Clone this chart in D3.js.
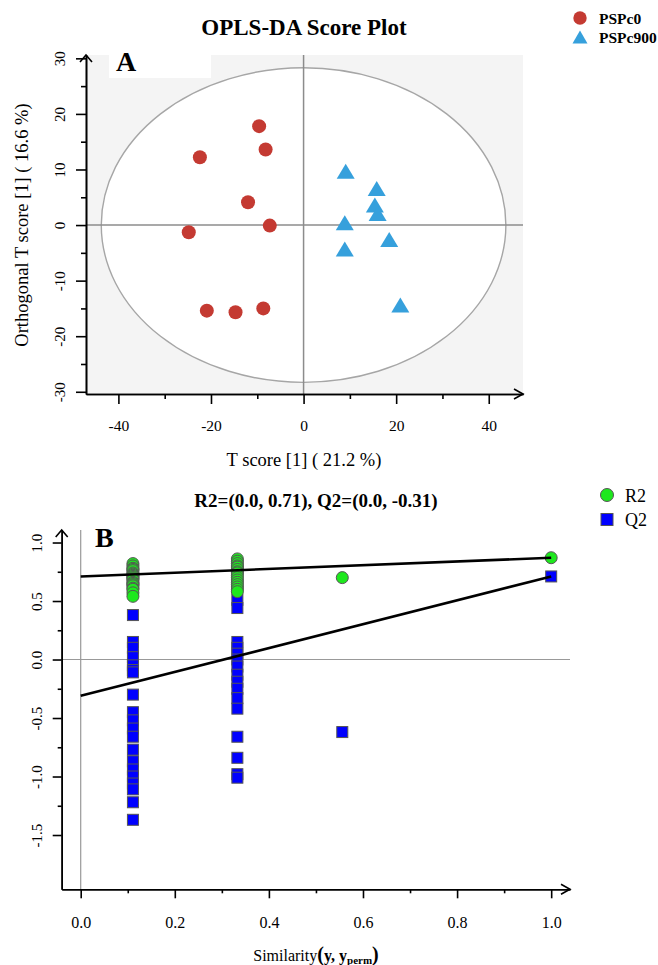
<!DOCTYPE html>
<html lang="en">
<head>
<meta charset="UTF-8">
<title>OPLS-DA</title>
<script src="https://cdn.jsdelivr.net/npm/d3@7"></script>
<style>
  body, html {margin: 0; padding: 0; background: #fff;}
  svg {display: block; font-family: "Liberation Serif", "Times New Roman", serif;}
  svg text {font-family: "Liberation Serif", "Times New Roman", serif;}
  .axis path, .axis line {stroke: #000; stroke-width: 1.6;}
  .axis text {fill: #000;}
</style>
</head>
<body>
<div id="chart"></div>
<script>
// ---- panel A: score plot ----
const pspc0X = [-9.6, -8.2, -22.4, -12.0, -7.3, -24.8, -20.9, -14.7, -8.7];
const pspc0Y = [17.8, 13.6, 12.2, 4.1, -0.1, -1.3, -15.4, -15.7, -15.0];
const pspc900X = [9.1, 15.8, 15.4, 16.0, 8.9, 18.5, 8.9, 20.9];
const pspc900Y = [9.7, 6.6, 3.6, 2.1, 0.4, -2.6, -4.3, -14.4];
const ellipseRadius = [43.7, 28.3];   // T2 ellipse, data units
const xTicksA = [-40, -20, 0, 20, 40];
const xMinorA = [-30, -10, 10, 30];
const yTicksA = [-30, -20, -10, 0, 10, 20, 30];
const yMinorA = [-25, -15, -5, 5, 15, 25];

// ---- panel B: permutation test ----
const simValues = [0.111, 0.333, 0.556, 1.0];
const r2Col1 = [0.82, 0.80, 0.78, 0.77, 0.76, 0.74, 0.73, 0.72, 0.71, 0.70, 0.69, 0.68, 0.66, 0.65, 0.64, 0.63, 0.61, 0.60, 0.57, 0.54];
const q2Col1 = [0.38, 0.15, 0.10, 0.02, -0.05, -0.09, -0.11, -0.30, -0.45, -0.52, -0.59, -0.66, -0.77, -0.87, -0.94, -1.00, -1.06, -1.11, -1.22, -1.37];
const r2Col2 = [0.86, 0.84, 0.82, 0.80, 0.79, 0.77, 0.75, 0.74, 0.72, 0.70, 0.68, 0.66, 0.64, 0.62, 0.60, 0.58];
const q2Col2 = [0.51, 0.44, 0.15, 0.10, 0.05, 0.00, -0.06, -0.13, -0.19, -0.25, -0.33, -0.42, -0.66, -0.84, -0.98, -1.01];
const r2Col3 = [0.70];
const q2Col3 = [-0.62];
const r2Orig = [0.87];
const q2Orig = [0.71];
const r2Line = [0.71, 0.87];   // intercept, value at 1.0
const q2Line = [-0.31, 0.71];
const xTicksB = [0, 0.2, 0.4, 0.6, 0.8, 1.0];
const xMinorB = [0.1, 0.3, 0.5, 0.7, 0.9];
const yTicksB = [-1.5, -1.0, -0.5, 0, 0.5, 1.0];
const yMinorB = [-1.25, -0.75, -0.25, 0.25, 0.75];

const red = "#c43a32", blue = "#36a0dc", green = "#1ee81e", qblue = "#0000ff";
const serif = "'Liberation Serif', 'Times New Roman', serif";

var width = 658, height = 965;
var svg = d3.select("#chart").append("svg")
  .attr("width", width).attr("height", height);

// =========== panel A ===========
var xA = d3.scaleLinear().domain([-47, 47.4]).range([86, 523]),
    yA = d3.scaleLinear().domain([-30.4, 30.6]).range([394, 55]);

var gA = svg.append("g");

gA.append("rect")
  .attr("x", xA.range()[0]).attr("y", yA.range()[1])
  .attr("width", xA.range()[1] - xA.range()[0])
  .attr("height", yA.range()[0] - yA.range()[1])
  .attr("fill", "#f4f4f4");

gA.append("rect")
  .attr("x", 109).attr("y", yA.range()[1])
  .attr("width", 102).attr("height", 23)
  .attr("fill", "#fff");

gA.append("ellipse")
  .attr("cx", xA(0)).attr("cy", yA(0))
  .attr("rx", xA(ellipseRadius[0]) - xA(0))
  .attr("ry", yA(0) - yA(ellipseRadius[1]))
  .attr("fill", "#fff").attr("stroke", "#a6a6a6").attr("stroke-width", 1.4);

// zero lines
gA.append("line")
  .attr("x1", xA(0)).attr("x2", xA(0))
  .attr("y1", yA.range()[0]).attr("y2", yA.range()[1])
  .attr("stroke", "#8c8c8c").attr("stroke-width", 1.5);
gA.append("line")
  .attr("x1", xA.range()[0]).attr("x2", xA.range()[1])
  .attr("y1", yA(0)).attr("y2", yA(0))
  .attr("stroke", "#8c8c8c").attr("stroke-width", 1.5);

// axes, R style: rotated y labels, minor ticks, arrow heads
function drawAxes(g, x, y, o) {
  var x0 = x.range()[0], x1 = x.range()[1], y0 = y.range()[0], y1 = y.range()[1];

  g.append("g").attr("class", "axis")
    .attr("transform", `translate(0, ${y0})`)
    .call(d3.axisBottom(x).tickValues(o.xMinor).tickSize(o.minor).tickSizeOuter(0).tickFormat(""));
  var ax = g.append("g").attr("class", "axis")
    .attr("transform", `translate(0, ${y0})`)
    .call(d3.axisBottom(x).tickValues(o.xTicks).tickSize(o.major).tickSizeOuter(0).tickFormat(o.xFmt));
  ax.selectAll("text").attr("y", o.xLabelOff).attr("dy", 0)
    .style("font-family", serif).style("font-size", o.xFs + "px");

  g.append("g").attr("class", "axis")
    .attr("transform", `translate(${x0}, 0)`)
    .call(d3.axisLeft(y).tickValues(o.yMinor).tickSize(o.minor).tickSizeOuter(0).tickFormat(""));
  var ay = g.append("g").attr("class", "axis")
    .attr("transform", `translate(${x0}, 0)`)
    .call(d3.axisLeft(y).tickValues(o.yTicks).tickSize(o.major).tickSizeOuter(0).tickFormat(o.yFmt));
  ay.selectAll("text").attr("x", 0).attr("dy", 0).attr("y", -o.yLabelOff)
    .attr("transform", "rotate(-90)").attr("text-anchor", "middle")
    .style("font-family", serif).style("font-size", o.yFs + "px");

  g.selectAll(".axis .domain").attr("stroke-width", 1.8);

  // arrow heads
  g.append("path")
    .attr("d", `M${x0 - 6},${y1 + 7}L${x0},${y1}L${x0 + 6},${y1 + 7}`)
    .attr("fill", "none").attr("stroke", "#000").attr("stroke-width", 1.6);
  g.append("path")
    .attr("d", `M${x1 - 9},${y0 - 5}L${x1},${y0}L${x1 - 9},${y0 + 5}`)
    .attr("fill", "none").attr("stroke", "#000").attr("stroke-width", 1.6);
}

drawAxes(gA, xA, yA, {
  xTicks: xTicksA, xMinor: xMinorA, yTicks: yTicksA, yMinor: yMinorA,
  major: 10, minor: 5, xLabelOff: 37, yLabelOff: 21, xFs: 15.5, yFs: 15,
  xFmt: d => String(d), yFmt: d => String(d)
});

// points
gA.selectAll("circle.p0")
  .data(pspc0X.map((v, i) => [v, pspc0Y[i]]))
  .enter().append("circle")
  .attr("class", "p0")
  .attr("cx", d => xA(d[0])).attr("cy", d => yA(d[1]))
  .attr("r", 7).attr("fill", red);

function tri(w, h) { return `M0,${-h / 2}L${w / 2},${h / 2}L${-w / 2},${h / 2}Z`; }

gA.selectAll("path.p900")
  .data(pspc900X.map((v, i) => [v, pspc900Y[i]]))
  .enter().append("path")
  .attr("class", "p900")
  .attr("d", tri(18, 15))
  .attr("transform", d => `translate(${xA(d[0])}, ${yA(d[1])})`)
  .attr("fill", blue);

// labels
svg.append("text").attr("x", 304).attr("y", 35).attr("text-anchor", "middle")
  .attr("font-size", 23).attr("font-weight", "bold").text("OPLS-DA Score Plot");
svg.append("text").attr("x", 116).attr("y", 71)
  .attr("font-size", 28).attr("font-weight", "bold").text("A");
svg.append("text").attr("x", 304).attr("y", 466).attr("text-anchor", "middle")
  .attr("font-size", 18.5).text("T score [1] ( 21.2 %)");
svg.append("text").attr("transform", "translate(28, 225) rotate(-90)").attr("text-anchor", "middle")
  .attr("font-size", 18.5).text("Orthogonal T score [1] ( 16.6 %)");

// legend A
svg.append("circle").attr("cx", 580).attr("cy", 18).attr("r", 6.7).attr("fill", red);
svg.append("path").attr("d", tri(15, 13)).attr("transform", "translate(580, 37)").attr("fill", blue);
svg.append("text").attr("x", 599).attr("y", 24).attr("font-size", 15.5).attr("font-weight", "bold").text("PSPc0");
svg.append("text").attr("x", 599).attr("y", 43).attr("font-size", 15.5).attr("font-weight", "bold").text("PSPc900");

// =========== panel B ===========
var xB = d3.scaleLinear().domain([-0.0404, 1.04]).range([61.7, 570]),
    yB = d3.scaleLinear().domain([-1.964, 1.107]).range([889.3, 530]);

var gB = svg.append("g");

gB.append("line")
  .attr("x1", xB(0)).attr("x2", xB(0))
  .attr("y1", yB.range()[0]).attr("y2", yB.range()[1])
  .attr("stroke", "#999").attr("stroke-width", 1.2);
gB.append("line")
  .attr("x1", xB.range()[0]).attr("x2", xB.range()[1])
  .attr("y1", yB(0)).attr("y2", yB(0))
  .attr("stroke", "#999").attr("stroke-width", 1.2);

drawAxes(gB, xB, yB, {
  xTicks: xTicksB, xMinor: xMinorB, yTicks: yTicksB, yMinor: yMinorB,
  major: 9, minor: 4, xLabelOff: 39, yLabelOff: 20, xFs: 16, yFs: 15,
  xFmt: d => d.toFixed(1), yFmt: d => d.toFixed(1)
});

var q2pts = [], r2pts = [];
[[q2Col1, r2Col1], [q2Col2, r2Col2], [q2Col3, r2Col3], [q2Orig, r2Orig]].forEach((c, i) => {
  c[0].forEach(v => q2pts.push([simValues[i], v]));
  c[1].forEach(v => r2pts.push([simValues[i], v]));
});

gB.selectAll("rect.q2")
  .data(q2pts).enter().append("rect")
  .attr("class", "q2")
  .attr("x", d => xB(d[0]) - 5.5).attr("y", d => yB(d[1]) - 5.5)
  .attr("width", 11).attr("height", 11)
  .attr("fill", qblue).attr("stroke", "#555").attr("stroke-width", 1);

gB.selectAll("circle.r2")
  .data(r2pts).enter().append("circle")
  .attr("class", "r2")
  .attr("cx", d => xB(d[0])).attr("cy", d => yB(d[1]))
  .attr("r", 6).attr("fill", green).attr("stroke", "#555").attr("stroke-width", 1);

var line = d3.line().x(d => xB(d[0])).y(d => yB(d[1]));
gB.append("path").attr("d", line([[0, r2Line[0]], [1, r2Line[1]]]))
  .attr("stroke", "#000").attr("stroke-width", 2.6).attr("fill", "none");
gB.append("path").attr("d", line([[0, q2Line[0]], [1, q2Line[1]]]))
  .attr("stroke", "#000").attr("stroke-width", 2.6).attr("fill", "none");

svg.append("text").attr("x", 316).attr("y", 507).attr("text-anchor", "middle")
  .attr("font-size", 19).attr("font-weight", "bold")
  .text(`R2=(0.0, ${r2Line[0].toFixed(2)}), Q2=(0.0, ${q2Line[0].toFixed(2)})`);
svg.append("text").attr("x", 95).attr("y", 547)
  .attr("font-size", 28).attr("font-weight", "bold").text("B");

var xl = svg.append("text").attr("x", 316).attr("y", 961).attr("text-anchor", "middle").attr("font-size", 16);
xl.append("tspan").text("Similarity");
xl.append("tspan").attr("font-weight", "bold").attr("font-size", 20).text("(");
xl.append("tspan").attr("font-weight", "bold").text("y, y");
xl.append("tspan").attr("font-weight", "bold").attr("font-size", 11).attr("dy", 3).text("perm");
xl.append("tspan").attr("font-weight", "bold").attr("font-size", 20).attr("dy", -3).text(")");

// legend B
svg.append("circle").attr("cx", 607).attr("cy", 495).attr("r", 6.5)
  .attr("fill", green).attr("stroke", "#555").attr("stroke-width", 1);
svg.append("rect").attr("x", 601).attr("y", 513.5).attr("width", 12).attr("height", 12)
  .attr("fill", qblue).attr("stroke", "#555").attr("stroke-width", 1);
svg.append("text").attr("x", 625).attr("y", 502).attr("font-size", 18).text("R2");
svg.append("text").attr("x", 625).attr("y", 526).attr("font-size", 18).text("Q2");
</script>
</body>
</html>
